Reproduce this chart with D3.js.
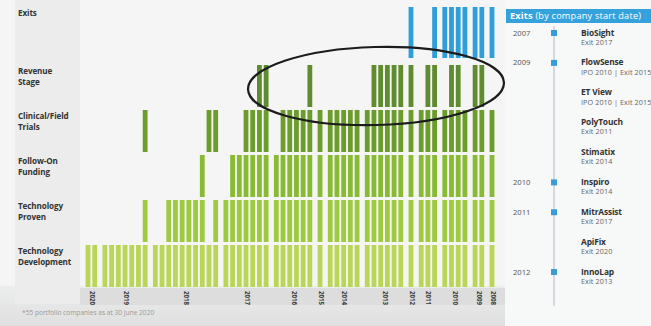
<!DOCTYPE html>
<html>
<head>
<meta charset="utf-8">
<script src="https://cdn.jsdelivr.net/npm/d3@7"></script>
<style>
  html, body { margin: 0; padding: 0; background: #f4f5f4; }
  svg { display: block; font-family: "Open Sans", "Noto Sans", sans-serif; }
</style>
</head>
<body>
<svg id="chart" width="651" height="326"></svg>
<script>
// ---------------- DATA ----------------
const years = ["2020","2019","2018","2017","2016","2015","2014","2013","2012","2011","2010","2009","2008"];
const companiesPerYear = [2,7,10,7,6,1,5,6,1,3,4,2,1];

const stageNames = ["Exits","Revenue Stage","Clinical/Field Trials","Follow-On Funding","Technology Proven","Technology Development"];
const stageLabelLines = [["Exits"],["Revenue","Stage"],["Clinical/Field","Trials"],["Follow-On","Funding"],["Technology","Proven"],["Technology","Development"]];

// 1 = company reached that stage (one string per year, one character per company)
const exitsFlags      = ["00","0000000","0000000000","0000000","000000","0","00000","000000","1","001","1111","11","1"];
const revenueFlags    = ["00","0000000","0000000000","0000011","000001","0","00000","011111","1","011","0110","11","0"];
const clinicalFlags   = ["00","0000001","0000000011","0001111","011111","1","11111","111111","1","111","1111","11","1"];
const followOnFlags   = ["00","0000000","0000000100","0111111","111111","1","11111","111111","1","111","1111","11","1"];
const techProvenFlags = ["00","0000001","0011111101","1111111","111111","1","11111","111111","1","111","1111","11","1"];
const techDevFlags    = ["11","1111111","1111111111","1111111","111111","1","11111","111111","1","111","1111","11","1"];

const exitNames  = ["BioSight","FlowSense","ET View","PolyTouch","Stimatix","Inspiro","MitrAssist","ApiFix","InnoLap"];
const exitNotes  = ["Exit 2017","IPO 2010 | Exit 2015","IPO 2010 | Exit 2015","Exit 2011","Exit 2014","Exit 2014","Exit 2017","Exit 2020","Exit 2013"];
const exitStartYears = ["2007","2009","","","","2010","2011","","2012"];

const footnote = "*55 portfolio companies as at 30 June 2020";

// ---------------- STYLE ----------------
const stageColors = ["#2f9fdc","#5e8c2e","#6c9c2b","#88bb33","#9dca3e","#b9d657"];
const stageFlags = [exitsFlags, revenueFlags, clinicalFlags, followOnFlags, techProvenFlags, techDevFlags];

const svg = d3.select("#chart");

// background pieces
svg.append("rect").attr("x",0).attr("y",0).attr("width",651).attr("height",326).attr("fill","#f4f5f4");
const defs = svg.append("defs");
const grad = defs.append("linearGradient").attr("id","bottomGrad").attr("x1",0).attr("y1",0).attr("x2",0).attr("y2",1);
grad.append("stop").attr("offset","0%").attr("stop-color","#eceded");
grad.append("stop").attr("offset","100%").attr("stop-color","#dedfde");
svg.append("rect").attr("x",0).attr("y",286).attr("width",505).attr("height",40).attr("fill","url(#bottomGrad)");
svg.append("rect").attr("x",505).attr("y",0).attr("width",146).attr("height",326).attr("fill","#f7f8f8");
svg.append("rect").attr("x",15).attr("y",0).attr("width",65).attr("height",304).attr("fill","#ebeceb");
svg.append("rect").attr("x",80).attr("y",288).attr("width",425).attr("height",17).attr("fill","#dcdddc");

// ---------------- SCALES ----------------
const gapRatio = 0.52;
const companies = [];
let idx = 0;
years.forEach((yr, yi) => {
  for (let k = 0; k < companiesPerYear[yi]; k++) {
    companies.push({ year: yr, yi, k, slot: idx + yi * gapRatio });
    idx++;
  }
});
const maxSlot = d3.max(companies, d => d.slot);
const x = d3.scaleLinear().domain([0, maxSlot]).range([88, 492]);

const y = d3.scaleBand().domain(stageNames).range([20, 287]).paddingInner(1/15).paddingOuter(0);
const bw = 4.8;

// ---------------- BARS ----------------
stageNames.forEach((stage, si) => {
  const flags = stageFlags[si];
  const data = companies.filter(c => flags[c.yi][c.k] === "1");
  const isExit = stage === "Exits";
  svg.append("g").selectAll("rect").data(data).join("rect")
    .attr("x", d => x(d.slot) - bw / 2)
    .attr("y", isExit ? y(stage) - 13 : y(stage))
    .attr("width", bw)
    .attr("height", isExit ? y.bandwidth() + 9 : y.bandwidth())
    .attr("fill", stageColors[si]);
});

// ---------------- ROW LABELS ----------------
stageNames.forEach((stage, si) => {
  const top = stage === "Exits" ? y(stage) - 13 : y(stage);
  const t = svg.append("text")
    .attr("x", 18)
    .attr("y", top + 8.5)
    .attr("font-size", 8.1)
    .attr("font-weight", 700)
    .attr("fill", "#333")
    .attr("letter-spacing", -0.1);
  stageLabelLines[si].forEach((line, li) => {
    t.append("tspan").attr("x", 18).attr("dy", li === 0 ? 0 : 11.2).text(line);
  });
});

// ---------------- YEAR AXIS ----------------
const yearCenters = years.map((yr, yi) => d3.mean(companies.filter(c => c.yi === yi), c => c.slot));
const axis = d3.axisBottom(x).tickValues(yearCenters).tickFormat((d, i) => years[i]).tickSize(0);
const axisG = svg.append("g").attr("transform", "translate(0,290)").call(axis);
axisG.select(".domain").remove();
axisG.selectAll("text")
  .attr("transform", "rotate(90)")
  .attr("x", 1)
  .attr("y", 0)
  .attr("dy", "0.32em")
  .attr("text-anchor", "start")
  .attr("font-size", 6.2)
  .attr("font-weight", 700)
  .attr("font-family", "'Open Sans', sans-serif")
  .attr("fill", "#3a3a3a");

// footnote
svg.append("text").attr("x", 22).attr("y", 315).attr("font-size", 6.6).attr("fill", "#9a9a9a").text(footnote);

// ---------------- HIGHLIGHT ELLIPSE ----------------
svg.append("ellipse")
  .attr("cx", 376).attr("cy", 86).attr("rx", 128).attr("ry", 39)
  .attr("transform", "rotate(-1.5,376,86)")
  .attr("fill", "none").attr("stroke", "#1c1c1c").attr("stroke-width", 2.2);

// ---------------- EXITS PANEL ----------------
svg.append("rect").attr("x", 506).attr("y", 9).attr("width", 145).attr("height", 14).attr("fill", "#36a2dc");
const hdr = svg.append("text").attr("x", 510).attr("y", 19.2).attr("font-size", 9.2)
  .attr("letter-spacing", 0.2).attr("fill", "#ffffff");
hdr.append("tspan").attr("font-weight", 700).text("Exits");
hdr.append("tspan").text(" (by company start date)");

const ey = d3.scalePoint().domain(exitNames).range([33, 272]);
svg.append("line").attr("x1", 554).attr("x2", 554).attr("y1", 26).attr("y2", 306)
  .attr("stroke", "#c3ccd5").attr("stroke-width", 1.4);

exitNames.forEach((name, i) => {
  const cy = ey(name);
  if (exitStartYears[i]) {
    svg.append("text").attr("x", 513).attr("y", cy + 2.5).attr("font-size", 7.6).attr("fill", "#555").text(exitStartYears[i]);
    svg.append("rect").attr("x", 551).attr("y", cy - 3).attr("width", 6).attr("height", 6).attr("fill", "#3a9bd8");
  }
  svg.append("text").attr("x", 581).attr("y", cy + 2.5).attr("font-size", 8.4).attr("font-weight", 700)
    .attr("fill", "#333").attr("letter-spacing", -0.15).text(name);
  svg.append("text").attr("x", 581).attr("y", cy + 11.8).attr("font-size", 7.2)
    .attr("letter-spacing", 0.1).attr("fill", "#666").text(exitNotes[i]);
});
</script>
</body>
</html>
